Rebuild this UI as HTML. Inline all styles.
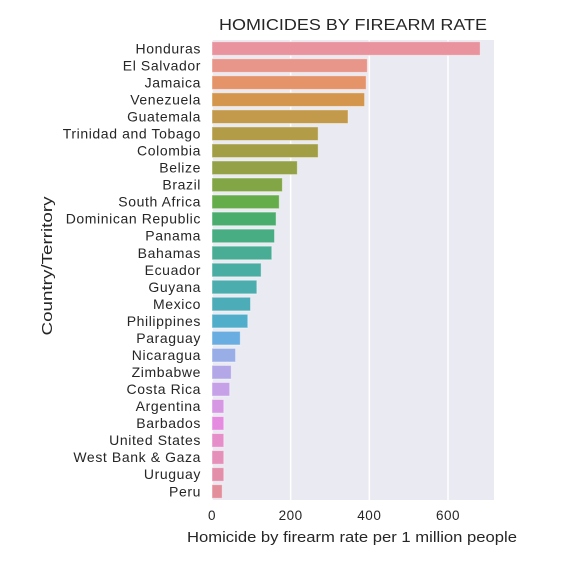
<!DOCTYPE html>
<html><head><meta charset="utf-8"><style>
html,body{margin:0;padding:0;background:#fff;}
svg{display:block;font-family:"Liberation Sans",Arial,sans-serif;}
</style></head><body>
<svg id="chart" width="574" height="572">
<rect x="0" y="0" width="574" height="572" fill="#fff"/>
<rect x="212" y="40" width="282" height="460" fill="#eaeaf2"/>
<g id="grid"></g><g id="bars"></g><g id="ylabels"></g><g id="xticks"></g>
<text x="353" y="30" text-anchor="middle" font-size="15.5" fill="#262626" textLength="268" lengthAdjust="spacingAndGlyphs">HOMICIDES BY FIREARM RATE</text>
<text x="352" y="542" text-anchor="middle" font-size="15" fill="#262626" textLength="330" lengthAdjust="spacingAndGlyphs">Homicide by firearm rate per 1 million people</text>
<text x="0" y="0" transform="translate(52,266) rotate(-90)" text-anchor="middle" font-size="15" fill="#262626" textLength="139" lengthAdjust="spacingAndGlyphs">Country/Territory</text>
</svg>
<script>
const categories=["Honduras","El Salvador","Jamaica","Venezuela","Guatemala","Trinidad and Tobago","Colombia","Belize","Brazil","South Africa","Dominican Republic","Panama","Bahamas","Ecuador","Guyana","Mexico","Philippines","Paraguay","Nicaragua","Zimbabwe","Costa Rica","Argentina","Barbados","United States","West Bank & Gaza","Uruguay","Peru"];
const values=[682,395,392,388,346,270,270,217,179,171,163,159,152,125,114,98,91,72,60,49,45,30,30,30,30,30,26];
const xTicks=[0,200,400,600];
const colors=["#e8939d","#e8958a","#e59369","#d3964c","#c39a4b","#b29c47","#a29e46","#94a146","#82a646","#65ac4b","#4bad6d","#49ad84","#49ad96","#4aada4","#4badad","#4cadb8","#51aecb","#6aade1","#99ade6","#b3a7e8","#c6a1e8","#d697e3","#e58ce1","#e68ec9","#e590b9","#e38fa9","#e38e9b"];
const X0=212,X1=494,Y0=40,Y1=500,XMAX=717;
const xs=v=>X0+v/XMAX*(X1-X0);
const step=(Y1-Y0)/categories.length;
const NS="http://www.w3.org/2000/svg";
function mk(t,a,p){const e=document.createElementNS(NS,t);for(const k in a)e.setAttribute(k,a[k]);p.appendChild(e);return e;}
const grid=document.getElementById('grid'),bars=document.getElementById('bars'),yl=document.getElementById('ylabels'),xt=document.getElementById('xticks');
xTicks.forEach(t=>{
  const l=mk('line',{x1:xs(t),x2:xs(t),y1:Y0,y2:Y1,stroke:'#fff','stroke-width':1.5},grid);
  
  
  const tx=mk('text',{x:xs(t),y:520,'text-anchor':'middle','font-size':13.5,'letter-spacing':0.5,fill:'#262626'},xt);
  tx.textContent=t;
  
  
});
categories.forEach((c,i)=>{
  const cy=Y0+step*(i+0.5),h=step*0.8;
  const r=mk('rect',{x:X0,y:cy-h/2,width:xs(values[i])-X0,height:h,fill:colors[i],stroke:'rgba(255,255,255,0.45)','stroke-width':1},bars);
  
  
  const t=mk('text',{x:201,y:cy+4.8,'text-anchor':'end','font-size':14,'letter-spacing':0.6,fill:'#262626'},yl);
  t.textContent=c;
  
  
});
</script>
</body></html>
